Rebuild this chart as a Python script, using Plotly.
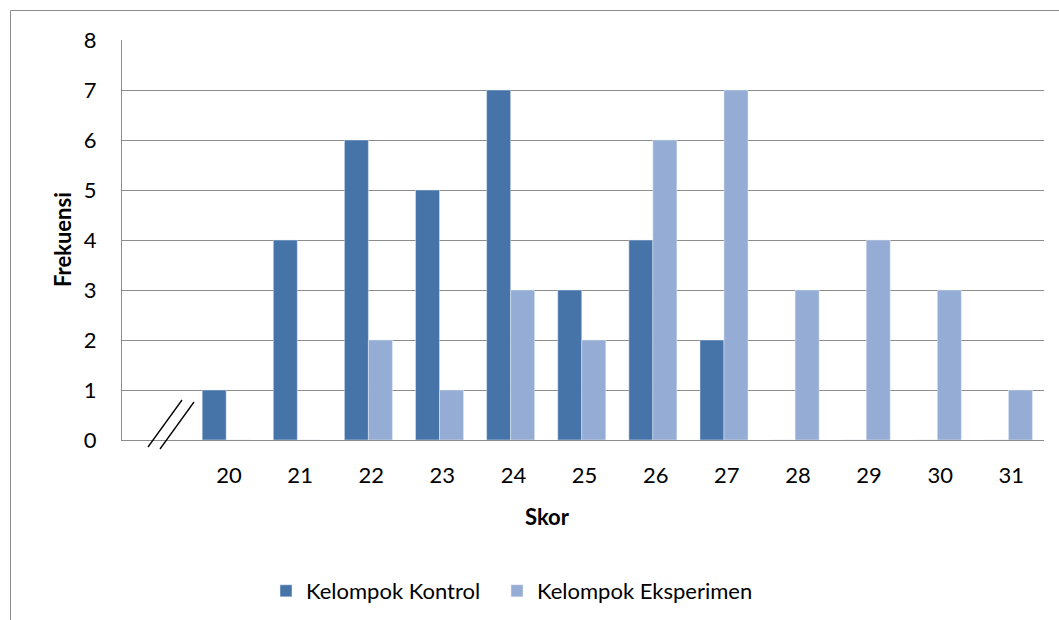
import plotly.graph_objects as go

skor = [20, 21, 22, 23, 24, 25, 26, 27, 28, 29, 30, 31]
kontrol = [1, 4, 6, 5, 7, 3, 4, 2, 0, 0, 0, 0]
eksperimen = [0, 0, 2, 1, 3, 2, 6, 7, 3, 4, 3, 1]
tick_labels = [str(s) for s in skor]

C_K = "#4674A8"
C_E = "#95ACD4"
GRID = "#8C8C8C"
FONT = "Lato"
FS = 22

W, H = 1059, 620
L, R, T, B = 122, 1044, 40, 440

fig = go.Figure()
fig.add_trace(go.Bar(x=skor, y=kontrol, name="Kelompok Kontrol", marker_color=C_K, legend="legend"))
fig.add_trace(go.Bar(x=skor, y=eksperimen, name="Kelompok Eksperimen", marker_color=C_E, legend="legend2"))

def px_x(p):
    return (p - L) / (R - L)

def px_y(p):
    return (B - p) / (B - T)

shapes = [
    # outer chart border
    dict(type="rect", xref="paper", yref="paper", x0=px_x(10.5), x1=px_x(1070), y0=px_y(10.5), y1=px_y(640),
         line=dict(color="#8C8C8C", width=1), fillcolor="rgba(0,0,0,0)", layer="below"),
    # axis break marks
    dict(type="line", xref="paper", yref="paper", x0=px_x(148), y0=px_y(447), x1=px_x(182), y1=px_y(400),
         line=dict(color="black", width=1.3)),
    dict(type="line", xref="paper", yref="paper", x0=px_x(160), y0=px_y(449), x1=px_x(194), y1=px_y(402),
         line=dict(color="black", width=1.3)),
]

leg_common = dict(orientation="h", xanchor="left", yanchor="middle",
                  font=dict(family=FONT, size=FS), bgcolor="rgba(0,0,0,0)")

fig.update_layout(
    width=W, height=H,
    margin=dict(l=L, r=W - R, t=T, b=H - B, autoexpand=False),
    paper_bgcolor="white", plot_bgcolor="white",
    barmode="group", bargap=0.325, bargroupgap=0,
    font=dict(family=FONT, size=FS, color="black"),
    showlegend=True,
    legend=dict(x=px_x(266), y=px_y(591), **leg_common),
    legend2=dict(x=px_x(497), y=px_y(591), **leg_common),
    xaxis=dict(range=[18.535, 31.5], tickvals=[s + 0.04 for s in skor], ticktext=tick_labels,
               showgrid=False, showline=True, linecolor=GRID, linewidth=1, ticks="",
               ticklabelstandoff=16, zeroline=False, fixedrange=True),
    yaxis=dict(range=[0, 8], dtick=1, showgrid=True, gridcolor=GRID, gridwidth=1,
               showline=True, linecolor=GRID, linewidth=1, ticks="", ticklabelstandoff=20,
               zeroline=False),
    shapes=shapes,
    annotations=[
        dict(text="<b>Skor</b>", xref="paper", yref="paper", x=px_x(547), y=px_y(516),
             xanchor="center", yanchor="middle",
             showarrow=False, font=dict(family=FONT, size=FS)),
        dict(text="<b>Frekuensi</b>", xref="paper", yref="paper", x=px_x(62), y=px_y(240),
             xanchor="center", yanchor="middle",
             showarrow=False, textangle=-90, font=dict(family=FONT, size=FS)),
    ],
)

fig.write_html("out.html", config={"displayModeBar": False},
               post_script="document.body.style.margin='0';")
